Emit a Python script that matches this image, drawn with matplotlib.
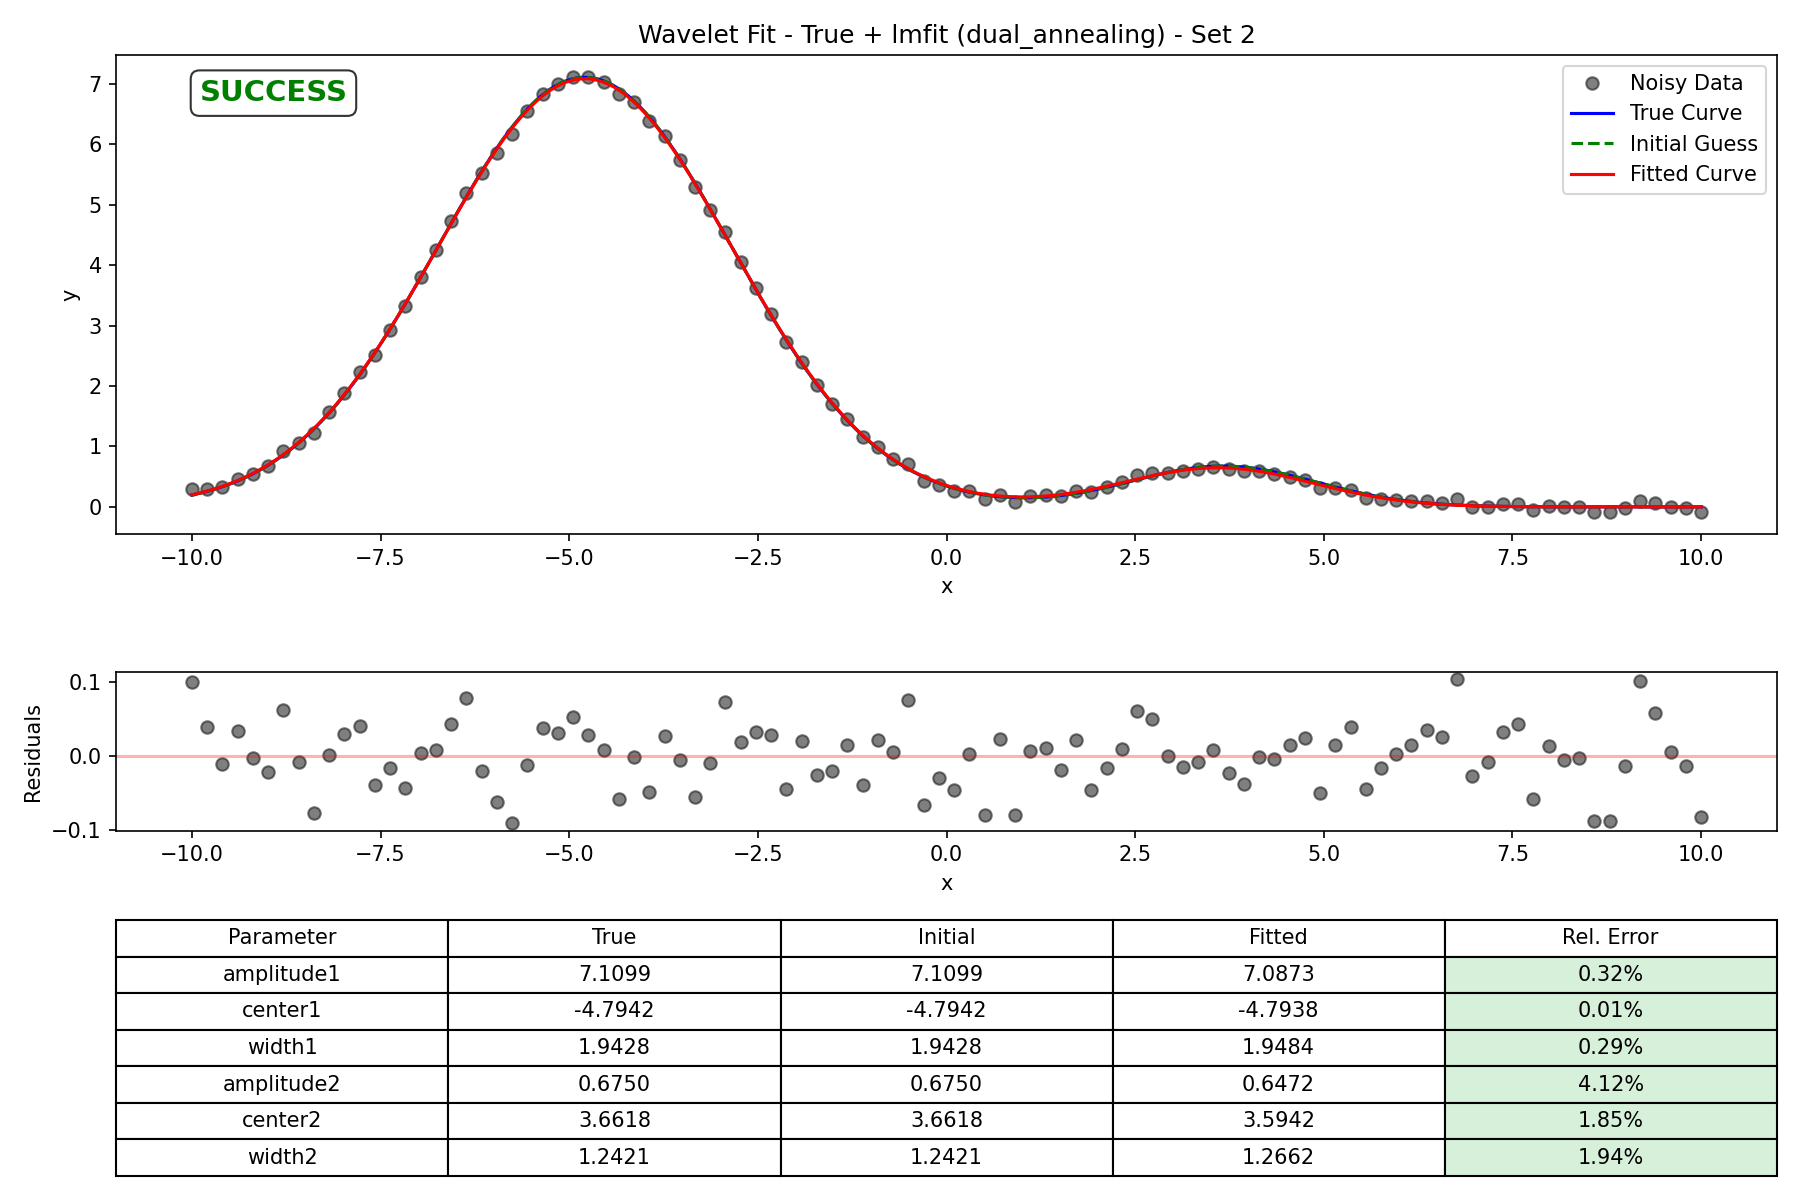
import numpy as np
import matplotlib
matplotlib.use('Agg')
from matplotlib import pyplot as plt

# sample positions of the noisy data
x = np.linspace(-10, 10, 100)

# residuals (data - fit)
residuals = [
    0.099, 0.0386, -0.011, 0.033, -0.003, -0.0215, 0.061, -0.008, -0.078, 0.0013,
    0.029, 0.040, -0.039, -0.0166, -0.0435, 0.0036, 0.0076, 0.0426, 0.0776, -0.0206,
    -0.062, -0.0915, -0.013, 0.037, 0.0305, 0.052, 0.028, 0.0076, -0.058, -0.0013,
    -0.049, 0.027, -0.0054, -0.0556, -0.0094, 0.0726, 0.0184, 0.0318, 0.0278, -0.0448,
    0.0197, -0.0256, -0.0206, 0.0143, -0.039, 0.021, 0.0049, 0.0749, -0.0673, -0.030,
    -0.047, 0.0022, -0.0807, 0.0229, -0.0807, 0.0063, 0.0108, -0.0188, 0.021, -0.047,
    -0.0161, 0.009, 0.0605, 0.0498, 0.0, -0.0148, -0.0081, 0.0076, -0.0233, -0.0377,
    -0.0013, -0.004, 0.0143, 0.0242, -0.0498, 0.0148, 0.0386, -0.0448, -0.0161, 0.0027,
    0.0148, 0.035, 0.0256, 0.1036, -0.0269, -0.0081, 0.0323, 0.0426, -0.0583, 0.0135,
    -0.0054, -0.0031, -0.0888, -0.0888, -0.0135, 0.1009, 0.0574, 0.0049, -0.0135, -0.0834,
]

param_names = ['amplitude1', 'center1', 'width1', 'amplitude2', 'center2', 'width2']
true_params = [7.1099, -4.7942, 1.9428, 0.6750, 3.6618, 1.2421]
init_params = [7.1099, -4.7942, 1.9428, 0.6750, 3.6618, 1.2421]
fit_params = [7.0873, -4.7938, 1.9484, 0.6472, 3.5942, 1.2662]
rel_errors = ['0.32%', '0.01%', '0.29%', '4.12%', '1.85%', '1.94%']


def wavelet(x, a1, c1, w1, a2, c2, w2):
    return (a1 * np.exp(-(x - c1)**2 / (2 * w1**2)) +
            a2 * np.exp(-(x - c2)**2 / (2 * w2**2)))


x_fine = np.linspace(-10, 10, 500)
y_data = wavelet(x, *fit_params) + np.array(residuals)

fig = plt.figure(figsize=(12, 8), dpi=150)
ax1 = fig.add_axes([0.0647, 0.555, 0.9223, 0.399])
ax2 = fig.add_axes([0.0647, 0.3078, 0.9223, 0.1325])
ax3 = fig.add_axes([0.0647, 0.02, 0.9223, 0.2133])

ax1.plot(x, y_data, 'o', color='black', alpha=0.5, label='Noisy Data')
ax1.plot(x_fine, wavelet(x_fine, *true_params), 'b-', label='True Curve')
ax1.plot(x_fine, wavelet(x_fine, *init_params), 'g--', label='Initial Guess')
ax1.plot(x_fine, wavelet(x_fine, *fit_params), 'r-', label='Fitted Curve')
ax1.set_xlabel('x')
ax1.set_ylabel('y')
ax1.set_title('Wavelet Fit - True + lmfit (dual_annealing) - Set 2', fontsize=12)
ax1.legend(loc='upper right')
ax1.text(0.05, 0.95, 'SUCCESS', transform=ax1.transAxes, fontsize=14,
         fontweight='bold', color='green', va='top', ha='left',
         bbox=dict(boxstyle='round', facecolor='white', alpha=0.8))

ax2.plot(x, residuals, 'o', color='black', alpha=0.5)
ax2.axhline(0, color='r', alpha=0.3)
ax2.set_xlabel('x')
ax2.set_ylabel('Residuals')

ax3.axis('off')
rows = [[n, f'{t:.4f}', f'{i:.4f}', f'{f:.4f}', e]
        for n, t, i, f, e in zip(param_names, true_params, init_params, fit_params, rel_errors)]
table = ax3.table(cellText=rows,
                  colLabels=['Parameter', 'True', 'Initial', 'Fitted', 'Rel. Error'],
                  cellLoc='center', loc='center', bbox=[0, 0, 1, 1])
table.auto_set_font_size(False)
table.set_fontsize(10)
for r in range(1, len(rows) + 1):
    table[r, 4].set_facecolor('#d6f0da')

fig.savefig('out.png', dpi=150)
